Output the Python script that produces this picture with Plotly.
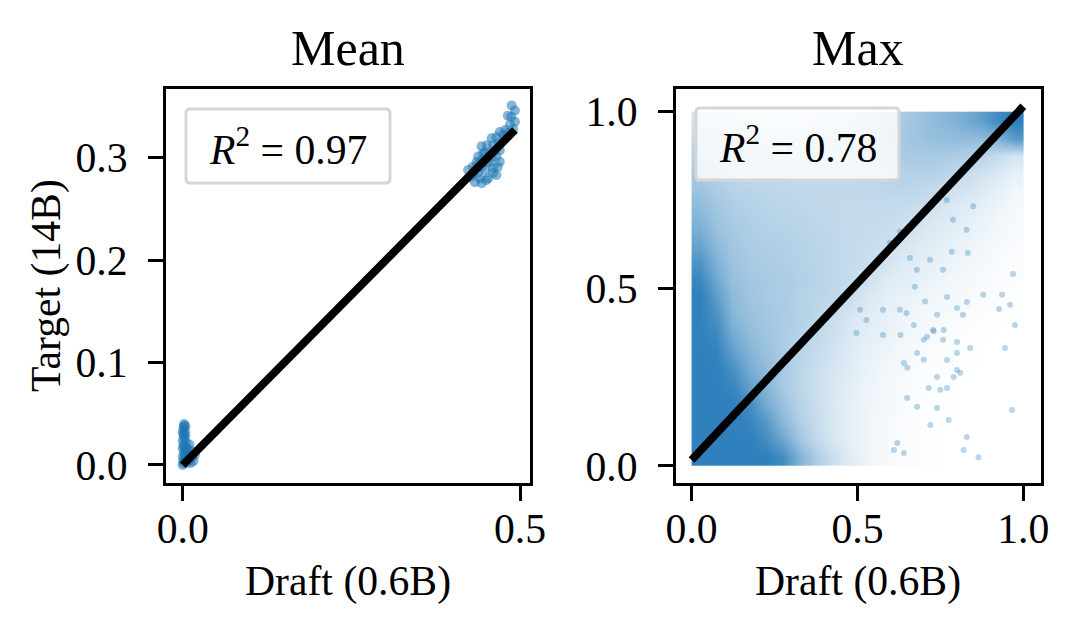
import plotly.graph_objects as go

# ----- DATA -----
# Left panel "Mean": per-sample mean scores, draft (0.6B) vs target (14B)
MEAN_DRAFT = [
    0.000, 0.001, 0.000, 0.002, 0.000, 0.001, 0.000, 0.002, 0.000, 0.001,
    0.002, 0.004, 0.004, 0.005, 0.004, 0.003, 0.006, 0.009, 0.012, 0.014,
    0.012, 0.010, 0.006, 0.016, 0.018, 0.003, 0.001, 0.003, 0.002, 0.003,
    0.001, 0.002, 0.008, 0.010, 0.007,
    0.4876, 0.4925, 0.482, 0.4925, 0.485, 0.478, 0.470, 0.465, 0.458, 0.460,
    0.451, 0.443, 0.445, 0.438, 0.436, 0.430, 0.423, 0.426, 0.433, 0.443,
    0.453, 0.465, 0.467, 0.470, 0.465, 0.470, 0.455, 0.450, 0.443, 0.460,
    0.438, 0.478, 0.482, 0.430, 0.435, 0.440, 0.445, 0.448, 0.455, 0.458,
    0.462, 0.448, 0.440, 0.450, 0.460, 0.468, 0.475, 0.487, 0.490,
]
MEAN_TARGET = [
    0.000, 0.004, 0.008, 0.012, 0.016, 0.020, 0.024, 0.028, 0.032, 0.036,
    0.040, 0.038, 0.030, 0.022, 0.014, 0.006, 0.002, 0.004, 0.002, 0.008,
    0.014, 0.020, 0.016, 0.004, 0.010, 0.034, 0.002, 0.010, 0.018, 0.026,
    0.030, 0.038, 0.010, 0.006, 0.016,
    0.351, 0.346, 0.341, 0.335, 0.332, 0.327, 0.325, 0.320, 0.319, 0.312,
    0.312, 0.311, 0.304, 0.301, 0.296, 0.291, 0.288, 0.281, 0.276, 0.275,
    0.280, 0.283, 0.291, 0.296, 0.301, 0.307, 0.304, 0.296, 0.291, 0.290,
    0.285, 0.319, 0.324, 0.284, 0.290, 0.295, 0.298, 0.288, 0.295, 0.300,
    0.306, 0.305, 0.280, 0.278, 0.285, 0.314, 0.322, 0.340, 0.328,
]
MEAN_FIT = (0.664, 0.000)  # slope, intercept
MEAN_R2 = "0.97"

# Right panel "Max": too many points to list, so a density grid (0 = empty, 1 = saturated)
MAX_X_CENTERS = [0.025, 0.075, 0.125, 0.175, 0.225, 0.275, 0.325, 0.375, 0.425, 0.475,
                 0.525, 0.575, 0.625, 0.675, 0.725, 0.775, 0.825, 0.875, 0.925, 0.975]
MAX_Y_CENTERS = MAX_X_CENTERS
MAX_DENSITY = [
    [1.00, 1.00, 1.00, 1.00, 1.00, 0.90, 0.60, 0.40, 0.25, 0.15, 0.08, 0.05, 0.03, 0.02, 0.01, 0.00, 0.00, 0.00, 0.00, 0.00],
    [1.00, 1.00, 1.00, 1.00, 0.90, 0.70, 0.45, 0.30, 0.20, 0.12, 0.08, 0.05, 0.03, 0.02, 0.01, 0.00, 0.00, 0.00, 0.00, 0.00],
    [1.00, 1.00, 1.00, 0.95, 0.80, 0.55, 0.38, 0.28, 0.18, 0.12, 0.08, 0.05, 0.03, 0.02, 0.01, 0.00, 0.00, 0.00, 0.00, 0.00],
    [1.00, 1.00, 1.00, 0.90, 0.65, 0.48, 0.35, 0.26, 0.18, 0.12, 0.08, 0.06, 0.04, 0.02, 0.01, 0.01, 0.00, 0.00, 0.00, 0.00],
    [1.00, 1.00, 0.95, 0.75, 0.58, 0.42, 0.32, 0.25, 0.18, 0.14, 0.09, 0.06, 0.04, 0.03, 0.02, 0.01, 0.00, 0.00, 0.00, 0.00],
    [1.00, 1.00, 0.88, 0.65, 0.52, 0.42, 0.32, 0.26, 0.20, 0.15, 0.10, 0.07, 0.05, 0.03, 0.02, 0.01, 0.01, 0.00, 0.00, 0.00],
    [1.00, 0.97, 0.75, 0.58, 0.48, 0.40, 0.34, 0.28, 0.22, 0.16, 0.12, 0.09, 0.06, 0.04, 0.03, 0.02, 0.01, 0.00, 0.00, 0.00],
    [1.00, 0.92, 0.65, 0.52, 0.45, 0.40, 0.35, 0.30, 0.24, 0.18, 0.14, 0.11, 0.08, 0.05, 0.04, 0.03, 0.02, 0.01, 0.00, 0.00],
    [1.00, 0.85, 0.58, 0.48, 0.44, 0.40, 0.36, 0.32, 0.27, 0.20, 0.15, 0.12, 0.09, 0.07, 0.05, 0.04, 0.03, 0.02, 0.01, 0.01],
    [1.00, 0.78, 0.54, 0.46, 0.42, 0.40, 0.36, 0.33, 0.30, 0.26, 0.18, 0.14, 0.11, 0.09, 0.07, 0.05, 0.04, 0.03, 0.02, 0.01],
    [0.95, 0.68, 0.50, 0.44, 0.42, 0.40, 0.37, 0.34, 0.31, 0.28, 0.24, 0.17, 0.14, 0.12, 0.09, 0.07, 0.05, 0.04, 0.03, 0.02],
    [0.85, 0.60, 0.47, 0.42, 0.40, 0.38, 0.36, 0.34, 0.31, 0.28, 0.26, 0.23, 0.17, 0.14, 0.12, 0.09, 0.07, 0.05, 0.03, 0.02],
    [0.72, 0.54, 0.44, 0.40, 0.38, 0.37, 0.35, 0.33, 0.31, 0.29, 0.27, 0.25, 0.22, 0.17, 0.14, 0.12, 0.09, 0.07, 0.04, 0.03],
    [0.62, 0.48, 0.42, 0.38, 0.36, 0.35, 0.34, 0.32, 0.30, 0.29, 0.28, 0.27, 0.25, 0.22, 0.17, 0.14, 0.12, 0.09, 0.06, 0.04],
    [0.55, 0.44, 0.39, 0.36, 0.34, 0.33, 0.32, 0.30, 0.30, 0.29, 0.29, 0.29, 0.28, 0.26, 0.22, 0.18, 0.15, 0.12, 0.08, 0.05],
    [0.48, 0.40, 0.36, 0.34, 0.32, 0.31, 0.30, 0.30, 0.30, 0.30, 0.30, 0.31, 0.32, 0.31, 0.28, 0.24, 0.20, 0.16, 0.11, 0.07],
    [0.42, 0.36, 0.32, 0.30, 0.30, 0.30, 0.30, 0.30, 0.30, 0.30, 0.31, 0.33, 0.36, 0.36, 0.35, 0.32, 0.27, 0.22, 0.17, 0.11],
    [0.36, 0.30, 0.28, 0.26, 0.26, 0.26, 0.26, 0.27, 0.28, 0.30, 0.31, 0.34, 0.40, 0.42, 0.42, 0.41, 0.38, 0.33, 0.28, 0.20],
    [0.30, 0.26, 0.22, 0.22, 0.22, 0.22, 0.22, 0.23, 0.24, 0.27, 0.30, 0.35, 0.42, 0.46, 0.50, 0.52, 0.52, 0.52, 0.60, 0.80],
    [0.22, 0.18, 0.17, 0.15, 0.15, 0.15, 0.15, 0.16, 0.18, 0.22, 0.28, 0.34, 0.40, 0.46, 0.52, 0.58, 0.66, 0.76, 0.92, 1.00],
]
# isolated points in the sparse part of the "Max" panel, right of the diagonal
MAX_SPARSE_DRAFT = [
    0.969, 0.879, 0.936, 0.927, 0.960, 0.975, 0.945, 0.840, 0.800, 0.770,
    0.800, 0.790, 0.810, 0.740, 0.770, 0.750, 0.715, 0.650, 0.680, 0.740,
    0.720, 0.775, 0.966, 0.830, 0.820, 0.865, 0.620, 0.610, 0.640, 0.700,
    0.710, 0.760, 0.730, 0.800, 0.700, 0.830, 0.800, 0.770, 0.740, 0.650,
    0.640, 0.680, 0.670, 0.630,
    0.628, 0.658, 0.719, 0.784, 0.833, 0.758, 0.673, 0.704, 0.628, 0.648,
    0.577, 0.818, 0.728, 0.758, 0.577, 0.527, 0.497, 0.508, 0.829, 0.788,
    0.849, 0.769, 0.598, 0.679,
]
MAX_SPARSE_TARGET = [
    0.542, 0.483, 0.483, 0.443, 0.455, 0.398, 0.333, 0.333, 0.319, 0.299,
    0.271, 0.251, 0.263, 0.251, 0.220, 0.215, 0.220, 0.192, 0.167, 0.164,
    0.116, 0.130, 0.158, 0.082, 0.045, 0.025, 0.065, 0.045, 0.037, 0.300,
    0.365, 0.384, 0.380, 0.350, 0.356, 0.463, 0.446, 0.477, 0.427, 0.277,
    0.291, 0.319, 0.398, 0.370,
    0.662, 0.587, 0.582, 0.605, 0.601, 0.554, 0.506, 0.464, 0.441, 0.432,
    0.441, 0.427, 0.384, 0.356, 0.370, 0.412, 0.375, 0.441, 0.667, 0.695,
    0.733, 0.751, 0.630, 0.554,
]
MAX_DRAFT_RANGE = [0.0, 1.0]
MAX_FIT = (0.998, 0.017)
MAX_R2 = "0.78"

BLUE = "#1f77b4"
FONT = "Liberation Serif"
W, H = 1080, 634


def px(x, y):
    """pixel position -> paper coordinates"""
    return x / W, 1 - y / H


def rounded_box(x0, y0, x1, y1, r=4):
    pts = [
        ("M", x0 + r, y0), ("L", x1 - r, y0), ("Q", x1, y0, x1, y0 + r),
        ("L", x1, y1 - r), ("Q", x1, y1, x1 - r, y1), ("L", x0 + r, y1),
        ("Q", x0, y1, x0, y1 - r), ("L", x0, y0 + r), ("Q", x0, y0, x0 + r, y0),
    ]
    out = []
    for p in pts:
        coords = []
        for i in range(1, len(p), 2):
            a, b = px(p[i], p[i + 1])
            coords.append(f"{a:.5f},{b:.5f}")
        out.append(p[0] + " ".join(coords))
    return " ".join(out) + " Z"


fig = go.Figure()

# ----- LEFT: Mean -----
fig.add_trace(go.Scatter(
    x=MEAN_DRAFT, y=MEAN_TARGET, mode="markers",
    marker=dict(size=10, color=BLUE, opacity=0.55, line=dict(width=0)),
    xaxis="x", yaxis="y", hoverinfo="skip",
))
x_lo, x_hi = min(MEAN_DRAFT), max(MEAN_DRAFT)
fig.add_trace(go.Scatter(
    x=[x_lo, x_hi], y=[MEAN_FIT[0] * v + MEAN_FIT[1] for v in (x_lo, x_hi)],
    mode="lines", line=dict(color="black", width=8),
    xaxis="x", yaxis="y", hoverinfo="skip",
))

# ----- RIGHT: Max -----
fig.add_trace(go.Heatmap(
    x=MAX_X_CENTERS, y=MAX_Y_CENTERS, z=MAX_DENSITY,
    zmin=0, zmax=1, zsmooth="best", showscale=False,
    colorscale=[[0, "rgb(255,255,255)"], [1, "rgb(47,128,188)"]],
    xaxis="x2", yaxis="y2", hoverinfo="skip",
))
fig.add_trace(go.Scatter(
    x=MAX_SPARSE_DRAFT, y=MAX_SPARSE_TARGET, mode="markers",
    marker=dict(size=6, color=BLUE, opacity=0.3, line=dict(width=0)),
    xaxis="x2", yaxis="y2", hoverinfo="skip",
))
fig.add_trace(go.Scatter(
    x=MAX_DRAFT_RANGE, y=[MAX_FIT[0] * v + MAX_FIT[1] for v in MAX_DRAFT_RANGE],
    mode="lines", line=dict(color="black", width=8),
    xaxis="x2", yaxis="y2", hoverinfo="skip",
))

# ----- AXES -----
tick_font = dict(family=FONT, size=41.7, color="black")
common = dict(
    showline=True, mirror=True, linecolor="black", linewidth=3.3,
    ticks="outside", ticklen=15, tickwidth=3.3, tickcolor="black",
    showgrid=False, zeroline=False, tickfont=tick_font, tickformat=".1f",
    automargin=False,
)
xcommon = dict(common, ticklabelstandoff=-8)
ycommon = dict(common, ticklabelstandoff=12)
left_dom = [166 / W, 530 / W]
right_dom = [676 / W, 1040.7 / W]
y_dom = [1 - 483 / H, 1 - 89 / H]

fig.update_layout(
    width=W, height=H, autosize=False,
    margin=dict(l=0, r=0, t=0, b=0, pad=0),
    paper_bgcolor="white", plot_bgcolor="white",
    showlegend=False,
    font=dict(family=FONT, color="black"),
    xaxis=dict(domain=left_dom, anchor="y", range=[-0.0248, 0.5148], tickvals=[0, 0.5], **xcommon),
    yaxis=dict(domain=y_dom, anchor="x", range=[-0.0176, 0.367], tickvals=[0, 0.1, 0.2, 0.3], **ycommon),
    xaxis2=dict(domain=right_dom, anchor="y2", range=[-0.047, 1.0525], tickvals=[0, 0.5, 1.0], **xcommon),
    yaxis2=dict(domain=y_dom, anchor="x2", range=[-0.048, 1.064], tickvals=[0, 0.5, 1.0], **ycommon),
)

# ----- R^2 boxes -----
for (bx0, by0, bx1, by1), r2 in [((186, 109, 390, 183), MEAN_R2), ((696, 108, 899, 180), MAX_R2)]:
    fig.add_shape(
        type="path", path=rounded_box(bx0, by0, bx1, by1), xref="paper", yref="paper",
        fillcolor="rgba(255,255,255,0.8)", line=dict(color="#d6d6d6", width=3), layer="above",
    )
    tx, ty = px((bx0 + bx1) / 2, (by0 + by1) / 2)
    fig.add_annotation(
        x=tx, y=ty, xref="paper", yref="paper", showarrow=False,
        xanchor="center", yanchor="middle",
        text=f"<i>R</i><sup>2</sup> = {r2}", font=dict(family=FONT, size=41.7),
    )

# ----- titles and axis labels -----
for cx, label in [((166 + 530) / 2, "Mean"), ((676 + 1040.7) / 2, "Max")]:
    tx, ty = px(cx, 48)
    fig.add_annotation(x=tx, y=ty, xref="paper", yref="paper", showarrow=False,
                       xanchor="center", yanchor="middle", text=label,
                       font=dict(family=FONT, size=50))
    tx, ty = px(cx, 581)
    fig.add_annotation(x=tx, y=ty, xref="paper", yref="paper", showarrow=False,
                       xanchor="center", yanchor="middle", text="Draft (0.6B)",
                       font=dict(family=FONT, size=41.7))
tx, ty = px(46, 286)
fig.add_annotation(x=tx, y=ty, xref="paper", yref="paper", showarrow=False,
                   xanchor="center", yanchor="middle", textangle=-90, text="Target (14B)",
                   font=dict(family=FONT, size=41.7))

# the page body has a default 8px margin; drop it so the figure sits at the corner
fig.write_html("out.html", config={"displayModeBar": False},
               post_script="document.body.style.margin='0';")
